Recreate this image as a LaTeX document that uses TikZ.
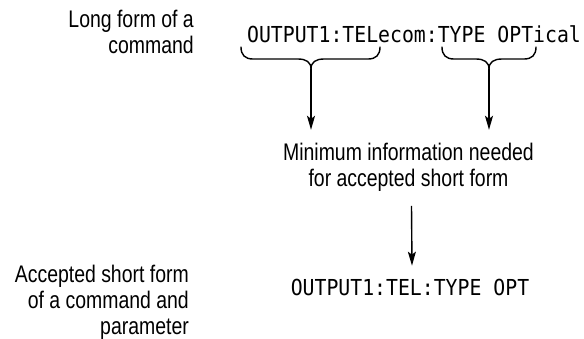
\documentclass[tikz,border=0pt]{standalone}
\usepackage{fontspec}
\setmainfont[FakeStretch=0.81]{Liberation Sans}
\newfontfamily\codefont[FakeStretch=0.9]{DejaVu Sans Mono}
\usetikzlibrary{arrows.meta}
\begin{document}
\begin{tikzpicture}[x=1pt,y=-1pt,
  lbl/.style={inner sep=0pt, font=\fontsize{24}{26}\selectfont},
  code/.style={inner sep=0pt, font=\codefont\fontsize{22}{26}\selectfont},
  brc/.style={line width=1.4pt, line cap=round},
  arr/.style={line width=1.4pt, -{Stealth[length=14pt,width=8pt,inset=3pt]}}]
\useasboundingbox (0,0) rectangle (584,338);
% left labels
\node[lbl, anchor=base east] (longlbl) at (194,27)
  {\begin{tabular}[t]{@{}r@{}}Long form of a\\command\end{tabular}};
\node[lbl, anchor=base east] (shortlbl) at (189,282)
  {\begin{tabular}[t]{@{}r@{}}Accepted short form\\of a command and\\parameter\end{tabular}};
% long form
\node[code, anchor=base] (long) at (414,42) {OUTPUT1:TELecom:TYPE OPTical};
% braces
\coordinate (tipL) at (311,69);
\coordinate (tipR) at (489,69);
\draw[brc] (241,47) .. controls (241,55) and (245,59) .. (253,59) -- (298,59)
  .. controls (306,59) and (311,62) .. (tipL);
\draw[brc] (380,47) .. controls (380,55) and (376,59) .. (368,59) -- (324,59)
  .. controls (316,59) and (311,62) .. (tipL);
\draw[brc] (442,47) .. controls (442,55) and (446,59) .. (454,59) -- (476,59)
  .. controls (484,59) and (489,62) .. (tipR);
\draw[brc] (536,47) .. controls (536,55) and (532,59) .. (524,59) -- (502,59)
  .. controls (494,59) and (489,62) .. (tipR);
% middle text
\node[lbl, anchor=base, outer sep=12pt] (mid) at (408.5,160)
  {\begin{tabular}[t]{@{}c@{}}Minimum information needed\\for accepted short form\end{tabular}};
% short form
\node[code, anchor=base, outer sep=13pt] (short) at (410,295) {OUTPUT1:TEL:TYPE OPT};
% arrows
\draw[arr] (tipL) -- (tipL |- mid.north);
\draw[arr] (tipR) -- (tipR |- mid.north);
\draw[arr] ([xshift=3pt]mid.south) -- ([xshift=2pt]short.north);
\end{tikzpicture}
\end{document}
